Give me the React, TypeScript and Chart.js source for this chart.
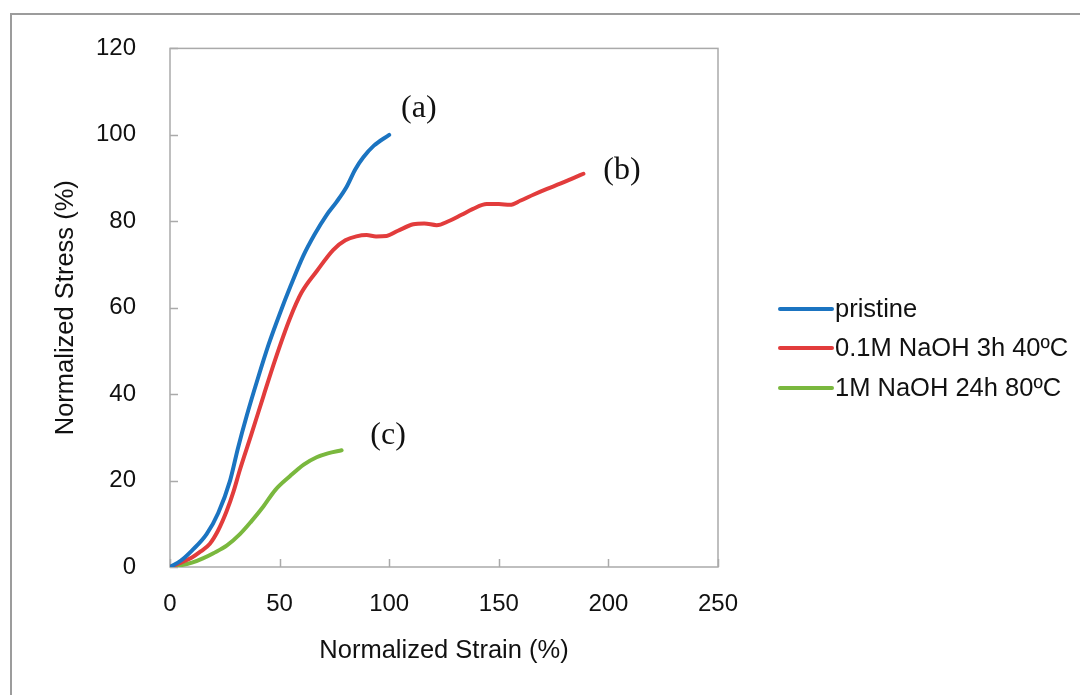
import React, { useEffect, useRef } from "react";
import { Chart, registerables } from "chart.js";

Chart.register(...registerables);

// ---- data ----
const seriesNames = ["pristine", "0.1M NaOH 3h 40ºC", "1M NaOH 24h 80ºC"];

const pristineStrain = [0, 5, 10, 16.7, 22, 27.4, 31, 35, 40, 45, 50, 55, 60.8, 66, 71.5, 76, 80.6, 84.5, 88.2, 93, 100];
const pristineStress = [0, 1.5, 3.8, 7.6, 12.5, 20, 27.5, 35, 43.5, 51.5, 58.5, 65, 72, 77, 81.5, 84.5, 88, 92, 94.8, 97.5, 100];

const naoh01Strain = [0, 5, 10, 14, 18.2, 22, 25.9, 29, 31.9, 37, 42.6, 48, 54.7, 60, 67, 74.5, 80, 85, 89.7, 94, 98.8, 104, 111, 116, 121.7, 127, 133, 138, 144.5, 150, 155.1, 160, 166, 172, 178, 184, 188.6];
const naoh01Stress = [0, 1, 2.2, 3.6, 5.4, 8.5, 13, 17.5, 22.5, 30.5, 39.5, 48, 57.5, 63.5, 68.5, 73.4, 75.6, 76.5, 76.8, 76.5, 76.6, 77.8, 79.3, 79.5, 79.1, 80, 81.5, 82.8, 84, 84, 83.8, 84.8, 86.2, 87.5, 88.7, 90, 91];

const naoh1Strain = [0, 5, 10, 15, 19.8, 26, 31.9, 37, 42.6, 48, 54.7, 61, 66.9, 72, 78.3];
const naoh1Stress = [0, 0.4, 1, 2, 3.2, 5, 7.6, 10.5, 14, 17.8, 21, 23.7, 25.4, 26.3, 27];

const xTicks = [0, 50, 100, 150, 200, 250];
const yTicks = [0, 20, 40, 60, 80, 100, 120];

const annotationTexts = ["(a)", "(b)", "(c)"];
const annotationStrain = [113.5, 206.2, 99.5];
const annotationStress = [106, 91.8, 30.5];

// ---- styles ----
const colors = ["#1b74c1", "#e23c3c", "#7ab83e"];
const SANS = "'Liberation Sans', Arial, sans-serif";
const SERIF = "'Liberation Serif', 'Times New Roman', serif";
const TITLE_SIZE = 25.5;

export default function App() {
  const ref = useRef<HTMLCanvasElement>(null);

  useEffect(() => {
    const canvas = ref.current;
    if (!canvas) return;
    const toPts = (xs: number[], ys: number[]) => xs.map((x, i) => ({ x, y: ys[i] }));

    const decor = {
      id: "decor",
      beforeDraw(chart: any) {
        const { ctx, width, height } = chart;
        ctx.save();
        ctx.fillStyle = "#ffffff";
        ctx.fillRect(0, 0, width, height);
        // outer frame (top and left edges visible)
        ctx.strokeStyle = "#9c9c9c";
        ctx.lineWidth = 2;
        ctx.beginPath();
        ctx.moveTo(width, 14);
        ctx.lineTo(11, 14);
        ctx.lineTo(11, height);
        ctx.stroke();
        ctx.restore();
      },
      beforeDatasetsDraw(chart: any) {
        const { ctx, chartArea: a, scales } = chart;
        ctx.save();
        ctx.strokeStyle = "#aaaaaa";
        ctx.lineWidth = 1.5;
        ctx.strokeRect(a.left, a.top, a.right - a.left, a.bottom - a.top);
        ctx.beginPath();
        yTicks.forEach((v) => {
          const py = Math.round(scales.y.getPixelForValue(v)) + 0.5;
          ctx.moveTo(a.left, py);
          ctx.lineTo(a.left + 8, py);
        });
        xTicks.forEach((v) => {
          const px = Math.round(scales.x.getPixelForValue(v)) + 0.5;
          ctx.moveTo(px, a.bottom);
          ctx.lineTo(px, a.bottom - 8);
        });
        ctx.stroke();
        ctx.restore();
      },
      afterDraw(chart: any) {
        const { ctx, scales } = chart;
        ctx.save();
        // legend
        const lx0 = 780, lx1 = 832, ty = [309, 348, 388];
        ctx.font = `${TITLE_SIZE}px ${SANS}`;
        ctx.textBaseline = "middle";
        ctx.textAlign = "left";
        seriesNames.forEach((name, i) => {
          ctx.strokeStyle = colors[i];
          ctx.lineWidth = 4;
          ctx.lineCap = "round";
          ctx.beginPath();
          ctx.moveTo(lx0, ty[i]);
          ctx.lineTo(lx1, ty[i]);
          ctx.stroke();
          ctx.fillStyle = "#111111";
          ctx.fillText(name, lx1 + 3, ty[i] + 1);
        });
        // annotations
        ctx.font = `32px ${SERIF}`;
        ctx.textAlign = "center";
        ctx.fillStyle = "#111111";
        annotationTexts.forEach((t, i) => {
          ctx.fillText(
            t,
            scales.x.getPixelForValue(annotationStrain[i]),
            scales.y.getPixelForValue(annotationStress[i])
          );
        });
        ctx.restore();
      },
    };

    const chart = new Chart(canvas, {
      type: "line",
      data: {
        datasets: [
          { label: seriesNames[0], data: toPts(pristineStrain, pristineStress) },
          { label: seriesNames[1], data: toPts(naoh01Strain, naoh01Stress) },
          { label: seriesNames[2], data: toPts(naoh1Strain, naoh1Stress) },
        ].map((d, i) => ({
          ...d,
          borderColor: colors[i],
          backgroundColor: colors[i],
          borderWidth: 4,
          pointRadius: 0,
          pointHoverRadius: 0,
          tension: 0.4,
          cubicInterpolationMode: "monotone" as const,
          fill: false,
          borderCapStyle: "round" as const,
        })),
      },
      options: {
        animation: false,
        responsive: false,
        devicePixelRatio: 1,
        layout: { padding: { left: 40, top: 44, right: 362, bottom: 20 } },
        plugins: {
          legend: { display: false },
          tooltip: { enabled: false },
        },
        scales: {
          x: {
            type: "linear",
            min: 0,
            max: 250,
            afterFit: (s: any) => {
              s.height = 108;
            },
            afterBuildTicks: (s: any) => {
              s.ticks = xTicks.map((v) => ({ value: v }));
            },
            ticks: {
              autoSkip: false,
              padding: 23,
              color: "#111111",
              font: { family: SANS, size: 24 },
            },
            grid: { display: false, drawTicks: false },
            border: { display: false },
            title: {
              display: true,
              text: "Normalized Strain (%)",
              color: "#111111",
              font: { family: SANS, size: TITLE_SIZE },
              padding: { top: 0, bottom: 8.5 },
            },
          },
          y: {
            type: "linear",
            min: 0,
            max: 120,
            afterFit: (s: any) => {
              s.width = 130;
            },
            afterBuildTicks: (s: any) => {
              s.ticks = yTicks.map((v) => ({ value: v }));
            },
            ticks: {
              autoSkip: false,
              padding: 34,
              color: "#111111",
              font: { family: SANS, size: 24 },
            },
            grid: { display: false, drawTicks: false },
            border: { display: false },
            title: {
              display: true,
              text: "Normalized Stress (%)",
              color: "#111111",
              font: { family: SANS, size: TITLE_SIZE },
              padding: { top: 10.5, bottom: 0 },
            },
          },
        },
      },
      plugins: [decor],
    });

    return () => chart.destroy();
  }, []);

  return (
    <div style={{ position: "fixed", left: 0, top: 0, width: 1080, height: 695, background: "#fff" }}>
      <canvas ref={ref} width={1080} height={695} style={{ display: "block" }} />
    </div>
  );
}
